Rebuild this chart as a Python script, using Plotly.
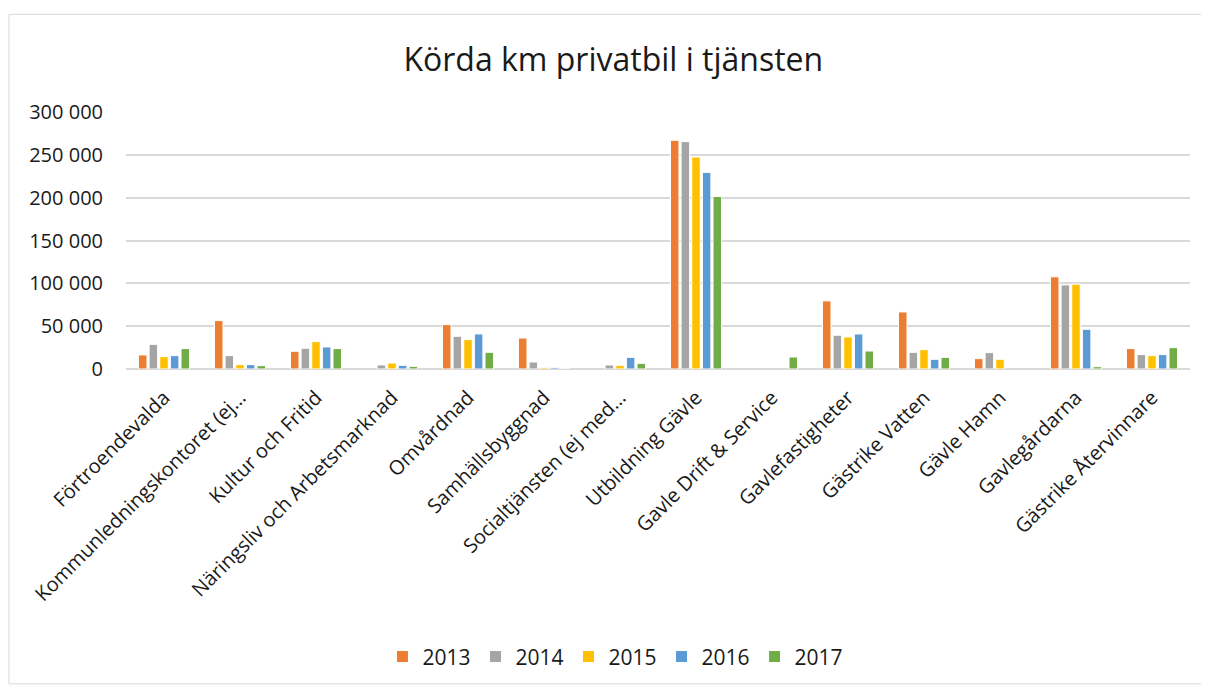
import plotly.graph_objects as go

categories = [
    "Förtroendevalda",
    "Kommunledningskontoret (ej…",
    "Kultur och Fritid",
    "Näringsliv och Arbetsmarknad",
    "Omvårdnad",
    "Samhällsbyggnad",
    "Socialtjänsten (ej med…",
    "Utbildning Gävle",
    "Gavle Drift & Service",
    "Gavlefastigheter",
    "Gästrike Vatten",
    "Gävle Hamn",
    "Gavlegårdarna",
    "Gästrike Återvinnare",
]

years = ["2013", "2014", "2015", "2016", "2017"]

km_2013 = [16400, 56500, 20700, None, 51800, 36200, None, 267000, None, 79500, 66600, 12100, 107600, 23800]
km_2014 = [28800, 15600, 24200, 4700, 38200, 8200, 4700, 265400, None, 39400, 19500, 19100, 98200, 16800]
km_2015 = [14400, 5100, 32000, 7000, 34300, 1900, 4300, 247500, None, 37400, 22600, 11300, 99000, 15600]
km_2016 = [15600, 5100, 25700, 4300, 40900, 1900, 13600, 229500, None, 40900, 11300, None, 46400, 16800]
km_2017 = [23800, 3900, 23800, 3100, 19500, 800, 6600, 201500, 14000, 21000, 13600, None, 2700, 24900]

series = [km_2013, km_2014, km_2015, km_2016, km_2017]
colors = ["#ED7D31", "#A5A5A5", "#FFC000", "#5B9BD5", "#70AD47"]

tick_vals = [0, 50000, 100000, 150000, 200000, 250000, 300000]
tick_text = ["0", "50 000", "100 000", "150 000", "200 000", "250 000", "300 000"]

FONT = "Open Sans"
TEXT = "#1a1a1a"

fig = go.Figure()
for year, values, color in zip(years, series, colors):
    fig.add_trace(go.Bar(
        x=categories, y=values, name=year,
        marker=dict(color=color, line=dict(color="white", width=1)),
    ))

# the page body adds an 8px margin, so the figure is 8px smaller than the window
fig.update_layout(
    width=1201, height=680,
    barmode="group", bargap=0.3, bargroupgap=0.2,
    paper_bgcolor="white", plot_bgcolor="white",
    font=dict(family=FONT, size=20, color=TEXT),
    margin=dict(l=118, r=19, t=104, b=318),
    title=dict(
        text="Körda km privatbil i tjänsten",
        x=0.504, xref="container", xanchor="center",
        y=0.9235, yref="container", yanchor="middle",
        font=dict(family=FONT, size=32, color=TEXT),
    ),
    legend=dict(
        orientation="h", x=0.46, xanchor="center", y=-1.112, yanchor="middle",
        font=dict(size=21), itemwidth=30, traceorder="normal",
    ),
    showlegend=True,
)

fig.update_xaxes(
    tickangle=-45, showgrid=False, showline=False, ticks="",
    tickfont=dict(size=20), ticklabelstandoff=12,
)
fig.update_yaxes(
    range=[0, 300000], tickvals=tick_vals, ticktext=tick_text,
    showgrid=True, gridcolor="#d9d9d9", gridwidth=1.5,
    zeroline=True, zerolinecolor="#d9d9d9", zerolinewidth=1.5,
    tickfont=dict(size=20), ticks="", ticklabelstandoff=22,
)

# outer chart border
fig.add_shape(
    type="rect", xref="paper", yref="paper",
    x0=-0.110, x1=1.015, y0=-1.225, y1=1.380,
    line=dict(color="#d9d9d9", width=1), fillcolor="rgba(0,0,0,0)",
)

fig.write_html("out.html")
